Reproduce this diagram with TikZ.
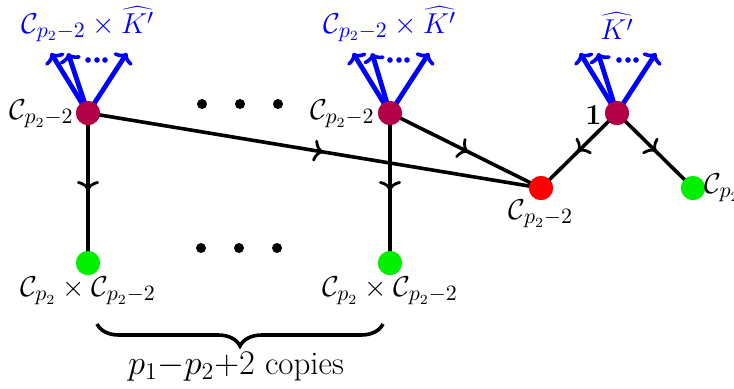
\documentclass[tikz,border=0pt]{standalone}
\usetikzlibrary{arrows.meta,decorations.markings,decorations.pathreplacing}
\definecolor{vpurple}{RGB}{180,0,70}
\definecolor{vgreen}{RGB}{0,240,0}
\begin{document}
\begin{tikzpicture}[x=0.5pt,y=-0.5pt,
  vert/.style={circle,inner sep=0pt,minimum size=12pt},
  edge/.style={line width=1.8pt, postaction={decorate},
    decoration={markings, mark=at position 0.52 with {\arrow{To[length=5pt,width=11pt,line width=1.4pt]}}}},
  bluearr/.style={blue, line width=2.4pt, -{To[length=4.5pt,width=11pt,line width=1.8pt]}},
  lab/.style={font=\fontsize{15}{18}\selectfont, inner sep=1pt},
  dotmark/.style={circle,fill=black,inner sep=0pt,minimum size=5pt},
  bluedot/.style={circle,fill=blue,inner sep=0pt,minimum size=2.8pt}
  ]
\useasboundingbox (0,0) rectangle (734,388);
% vertices
\node[vert,fill=vpurple] (L1) at (88,113) {};
\node[vert,fill=vgreen] (L2) at (88,263) {};
\node[vert,fill=vpurple] (M1) at (390,113) {};
\node[vert,fill=vgreen] (M2) at (390,263) {};
\node[vert,fill=red] (R) at (541,188) {};
\node[vert,fill=vpurple] (T) at (617,113) {};
\node[vert,fill=vgreen] (G) at (693,188) {};
% edges
\draw[edge] (L1.center) -- (R.center);
\draw[edge] (M1.center) -- (R.center);
\draw[edge] (T.center) -- (R.center);
\draw[edge] (T.center) -- (G.center);
\draw[edge] (L1.center) -- (L2.center);
\draw[edge] (M1.center) -- (M2.center);
% blue arrow ends
\coordinate (La) at (51,53); \coordinate (Lb) at (68,53); \coordinate (Lc) at (127,53);
\coordinate (Ma) at (353,53); \coordinate (Mb) at (372,53); \coordinate (Mc) at (429,53);
\coordinate (Ta) at (580,53); \coordinate (Tb) at (598,53); \coordinate (Tc) at (656,53);
\foreach \v/\e in {L1/La,L1/Lb,L1/Lc,M1/Ma,M1/Mb,M1/Mc,T/Ta,T/Tb,T/Tc}
  \draw[bluearr] (\v.center) -- (\e);
% redraw vertices on top
\node[vert,fill=vpurple] at (L1) {};
\node[vert,fill=vgreen] at (L2) {};
\node[vert,fill=vpurple] at (M1) {};
\node[vert,fill=vgreen] at (M2) {};
\node[vert,fill=red] at (R) {};
\node[vert,fill=vpurple] at (T) {};
\node[vert,fill=vgreen] at (G) {};
% small dots between blue arrows
\foreach \x/\n in {88/a,97/b,105/c} \node[bluedot] (lbd\n) at (\x,60) {};
\foreach \x/\n in {390/a,399/b,407/c} \node[bluedot] (mbd\n) at (\x,60) {};
\foreach \x/\n in {619/a,628/b,636/c} \node[bluedot] (tbd\n) at (\x,60) {};
% labels
\node[lab,text=blue] (lt) at (88,24) {$\mathcal{C}_{p_2-2}\times\widehat{K'}$};
\node[lab,text=blue] (mt) at (390,24) {$\mathcal{C}_{p_2-2}\times\widehat{K'}$};
\node[lab,text=blue] (tt) at (617,26) {$\widehat{K'}$};
\node[lab,anchor=east] (ll) at (76,114) {$\mathcal{C}_{p_2-2}$};
\node[lab,anchor=east] (ml) at (377,114) {$\mathcal{C}_{p_2-2}$};
\node[lab,anchor=east] (tl) at (604,115) {$\mathbf{1}$};
\node[lab] (rl) at (541,214) {$\mathcal{C}_{p_2-2}$};
\node[lab,anchor=west] (gl) at (702,188) {$\mathcal{C}_{p_2}$};
\node[lab] (l2l) at (88,291) {$\mathcal{C}_{p_2}\times\mathcal{C}_{p_2-2}$};
\node[lab] (m2l) at (390,291) {$\mathcal{C}_{p_2}\times\mathcal{C}_{p_2-2}$};
% ellipsis dots
\foreach \x/\n in {202/a,240/b,278/c} \node[dotmark] (td\n) at (\x,104) {};
\foreach \x/\n in {201/a,239/b,277/c} \node[dotmark] (bd\n) at (\x,248) {};
% brace
\coordinate (bra) at (97,324);
\coordinate (brb) at (383,324);
\draw[line width=1.8pt,decorate,decoration={brace,mirror,amplitude=11pt}] (bra) -- (brb);
\node[lab,font=\fontsize{16.5}{19}\selectfont] (cp) at (236,367) {$p_1{-}p_2{+}2$ copies};
\end{tikzpicture}
\end{document}
